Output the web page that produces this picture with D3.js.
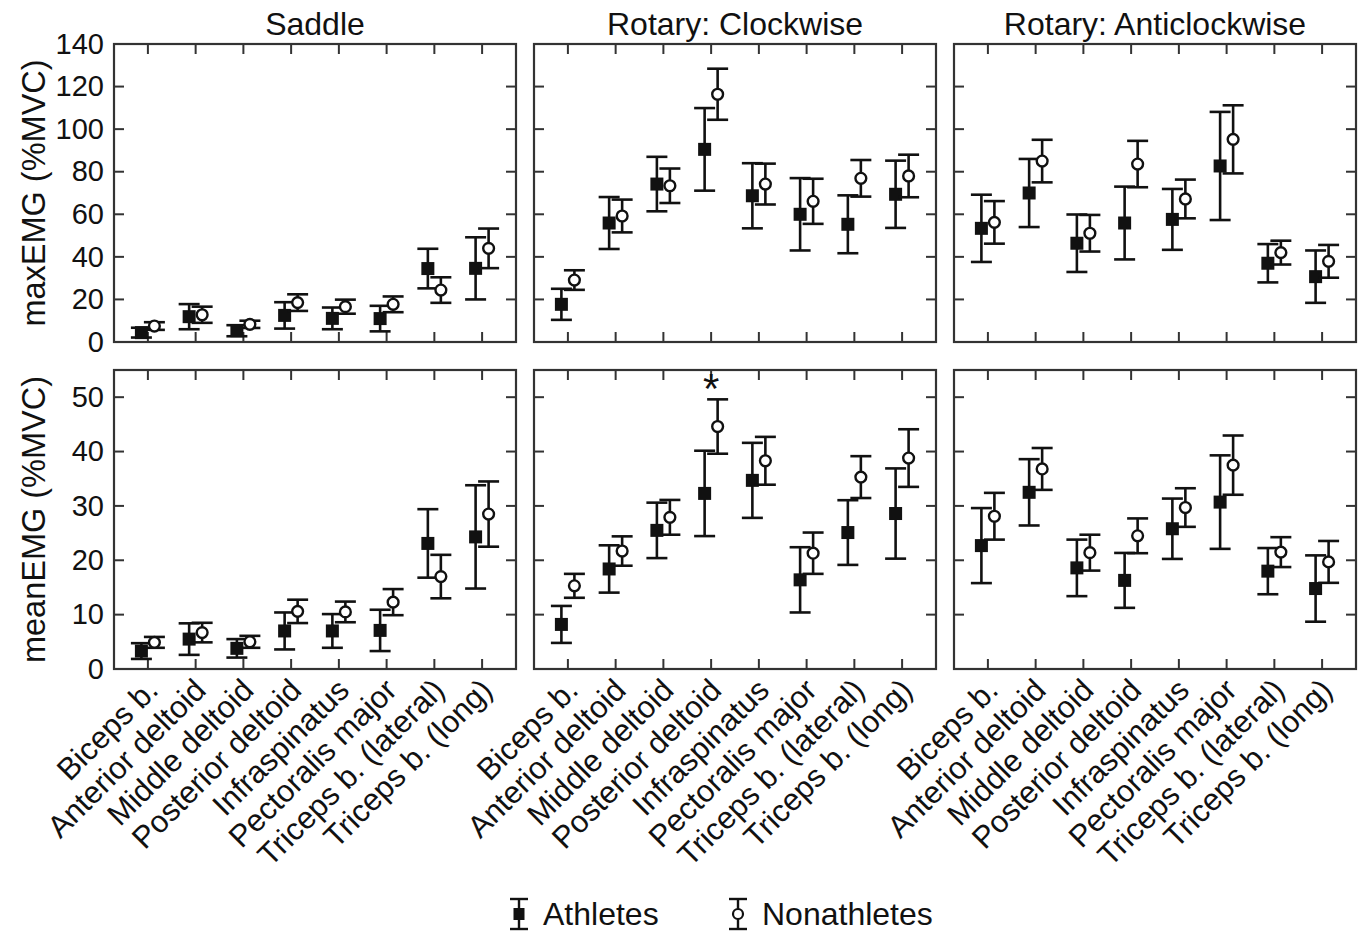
<!DOCTYPE html>
<html><head><meta charset="utf-8">
<script src="https://cdn.jsdelivr.net/npm/d3@7"></script>
<style>body{margin:0;background:#fff}svg{display:block;font-family:"Liberation Sans",Arial,sans-serif}</style>
</head><body><svg id="c" width="1359" height="932"></svg>
<script>
const categories = ["Biceps b.","Anterior deltoid","Middle deltoid","Posterior deltoid","Infraspinatus","Pectoralis major","Triceps b. (lateral)","Triceps b. (long)"];
const conditions = ["Saddle","Rotary: Clockwise","Rotary: Anticlockwise"];
const measures = ["maxEMG (%MVC)","meanEMG (%MVC)"];
const maxTicks = [0,20,40,60,80,100,120,140];
const meanTicks = [0,10,20,30,40,50];
const seriesNames = ["Athletes","Nonathletes"];

// maxEMG: means and SDs
const saddleMaxAth     = [4.4,11.9,5.3,12.5,11.1,11.0,34.5,34.6];
const saddleMaxAthSD   = [2.3,5.9,2.6,6.2,5.1,6.0,9.3,14.6];
const saddleMaxNon     = [7.5,12.8,8.3,18.5,16.6,17.7,24.4,44.0];
const saddleMaxNonSD   = [1.8,3.8,1.7,3.9,3.3,3.7,6.0,9.3];
const cwMaxAth         = [17.7,55.9,74.2,90.5,68.7,60.0,55.3,69.4];
const cwMaxAthSD       = [7.3,12.2,12.8,19.4,15.3,17.0,13.6,15.8];
const cwMaxNon         = [29.1,59.2,73.4,116.4,74.2,66.1,76.9,78.0];
const cwMaxNonSD       = [4.6,7.7,8.1,12.0,9.6,10.6,8.6,10.0];
const acwMaxAth        = [53.4,70.0,46.4,55.9,57.6,82.7,37.0,30.7];
const acwMaxAthSD      = [15.8,16.0,13.5,17.1,14.3,25.4,9.0,12.3];
const acwMaxNon        = [56.2,85.0,51.1,83.6,67.2,95.2,42.0,37.9];
const acwMaxNonSD      = [10.0,10.0,8.6,10.9,9.1,16.0,5.6,7.7];
// meanEMG: means and SDs
const saddleMeanAth    = [3.3,5.5,3.8,7.0,7.0,7.1,23.1,24.3];
const saddleMeanAthSD  = [1.45,2.9,1.7,3.4,3.1,3.8,6.3,9.5];
const saddleMeanNon    = [4.9,6.7,5.0,10.6,10.5,12.3,17.0,28.5];
const saddleMeanNonSD  = [1.0,1.8,1.1,2.15,1.9,2.4,4.0,6.0];
const cwMeanAth        = [8.2,18.4,25.5,32.3,34.7,16.4,25.1,28.6];
const cwMeanAthSD      = [3.4,4.35,5.1,7.85,6.9,6.0,5.95,8.3];
const cwMeanNon        = [15.3,21.7,27.9,44.6,38.3,21.3,35.3,38.8];
const cwMeanNonSD      = [2.2,2.7,3.2,5.0,4.4,3.8,3.85,5.3];
const acwMeanAth       = [22.7,32.5,18.6,16.3,25.8,30.7,18.0,14.8];
const acwMeanAthSD     = [6.9,6.1,5.2,5.05,5.55,8.6,4.25,6.1];
const acwMeanNon       = [28.1,36.8,21.4,24.5,29.7,37.5,21.5,19.7];
const acwMeanNonSD     = [4.3,3.85,3.3,3.2,3.55,5.45,2.75,3.85];
// significance markers: [row, panel, category]
const significance = [[1,1,"Posterior deltoid"]];

const panels = [
  [[saddleMaxAth,saddleMaxAthSD,saddleMaxNon,saddleMaxNonSD],[cwMaxAth,cwMaxAthSD,cwMaxNon,cwMaxNonSD],[acwMaxAth,acwMaxAthSD,acwMaxNon,acwMaxNonSD]],
  [[saddleMeanAth,saddleMeanAthSD,saddleMeanNon,saddleMeanNonSD],[cwMeanAth,cwMeanAthSD,cwMeanNon,cwMeanNonSD],[acwMeanAth,acwMeanAthSD,acwMeanNon,acwMeanNonSD]]
];

const svg = d3.select("#c");
const INK = "#111", FRAME = "#333";
const lefts = [114,534,954], PW = 402;
const rows = [{top:44,bottom:342,dom:[0,140],ticks:maxTicks},{top:370,bottom:669,dom:[0,55],ticks:meanTicks}];
const off = 6.5, cap = 10.5, sq = 13, cr = 5.4, TL = 10, LW = 2.6;

rows.forEach((r,ri)=>{
  const y = d3.scaleLinear().domain(r.dom).range([r.bottom,r.top]);
  svg.append("text").attr("transform",`translate(45,${(r.top+r.bottom)/2}) rotate(-90)`)
    .attr("text-anchor","middle").attr("font-size",32.5).attr("fill",INK).text(measures[ri]);
  lefts.forEach((lx,pi)=>{
    const x = d3.scalePoint().domain(categories).range([lx,lx+PW]).padding(0.71);
    const g = svg.append("g");
    // y tick labels via axis (first column only)
    if(pi===0){
      const gl = g.append("g").attr("transform",`translate(${lx},0)`)
        .call(d3.axisLeft(y).tickValues(r.ticks).tickSize(0).tickPadding(10).tickFormat(d3.format("d")));
      gl.select(".domain").remove();
      gl.selectAll(".tick text").attr("font-size",29).attr("fill",INK).attr("font-family","Liberation Sans, Arial, sans-serif");
    }
    // inward ticks on all four sides
    const tg = g.append("g").attr("stroke",FRAME).attr("stroke-width",2);
    r.ticks.forEach(t=>{
      tg.append("line").attr("x1",lx).attr("x2",lx+TL).attr("y1",y(t)).attr("y2",y(t));
      tg.append("line").attr("x1",lx+PW).attr("x2",lx+PW-TL).attr("y1",y(t)).attr("y2",y(t));
    });
    categories.forEach(c=>{
      tg.append("line").attr("x1",x(c)).attr("x2",x(c)).attr("y1",r.top).attr("y2",r.top+TL);
      tg.append("line").attr("x1",x(c)).attr("x2",x(c)).attr("y1",r.bottom).attr("y2",r.bottom-TL);
    });
    g.append("rect").attr("x",lx).attr("y",r.top).attr("width",PW).attr("height",r.bottom-r.top)
      .attr("fill","none").attr("stroke",FRAME).attr("stroke-width",2.2);
    if(ri===0){
      svg.append("text").attr("x",lx+PW/2).attr("y",35).attr("text-anchor","middle")
        .attr("font-size",32).attr("fill",INK).text(conditions[pi]);
    } else {
      const lab = svg.append("g");
      categories.forEach(c=>{
        lab.append("text").attr("transform",`translate(${x(c)+12},${r.bottom+23}) rotate(-45)`)
          .attr("text-anchor","end").attr("font-size",31).attr("fill",INK).text(c);
      });
    }
    const [am,asd,nm,nsd] = panels[ri][pi];
    const series = [
      {m:am,s:asd,dx:-off,filled:true},
      {m:nm,s:nsd,dx:off,filled:false}
    ];
    series.forEach(s=>{
      const eg = g.append("g");
      categories.forEach((c,i)=>{
        const cx = x(c)+s.dx, lo = y(s.m[i]-s.s[i]), hi = y(s.m[i]+s.s[i]);
        eg.append("line").attr("x1",cx).attr("x2",cx).attr("y1",lo).attr("y2",hi).attr("stroke",INK).attr("stroke-width",LW);
        eg.append("line").attr("x1",cx-cap).attr("x2",cx+cap).attr("y1",lo).attr("y2",lo).attr("stroke",INK).attr("stroke-width",LW);
        eg.append("line").attr("x1",cx-cap).attr("x2",cx+cap).attr("y1",hi).attr("y2",hi).attr("stroke",INK).attr("stroke-width",LW);
        if(s.filled){
          eg.append("rect").attr("x",cx-sq/2).attr("y",y(s.m[i])-sq/2).attr("width",sq).attr("height",sq).attr("fill",INK);
        } else {
          eg.append("circle").attr("cx",cx).attr("cy",y(s.m[i])).attr("r",cr).attr("fill","#fff").attr("stroke",INK).attr("stroke-width",2.4);
        }
      });
    });
    significance.filter(d=>d[0]===ri&&d[1]===pi).forEach(d=>{
      svg.append("text").attr("x",x(d[2])).attr("y",r.top+33).attr("text-anchor","middle")
        .attr("font-size",42).attr("fill",INK).text("*");
    });
  });
});

// legend
const lg = svg.append("g");
const legendItems = [{name:seriesNames[0],x:519,filled:true},{name:seriesNames[1],x:738,filled:false}];
legendItems.forEach(d=>{
  const cy = 914;
  lg.append("line").attr("x1",d.x).attr("x2",d.x).attr("y1",cy-15).attr("y2",cy+15).attr("stroke",INK).attr("stroke-width",2.4);
  lg.append("line").attr("x1",d.x-9).attr("x2",d.x+9).attr("y1",cy-15).attr("y2",cy-15).attr("stroke",INK).attr("stroke-width",2.4);
  lg.append("line").attr("x1",d.x-9).attr("x2",d.x+9).attr("y1",cy+15).attr("y2",cy+15).attr("stroke",INK).attr("stroke-width",2.4);
  if(d.filled) lg.append("rect").attr("x",d.x-5.5).attr("y",cy-6).attr("width",11).attr("height",12).attr("fill",INK);
  else lg.append("circle").attr("cx",d.x).attr("cy",cy).attr("r",5).attr("fill","#fff").attr("stroke",INK).attr("stroke-width",2.2);
  lg.append("text").attr("x",d.x+24).attr("y",cy+11).attr("font-size",32).attr("fill",INK).text(d.name);
});
</script></body></html>
